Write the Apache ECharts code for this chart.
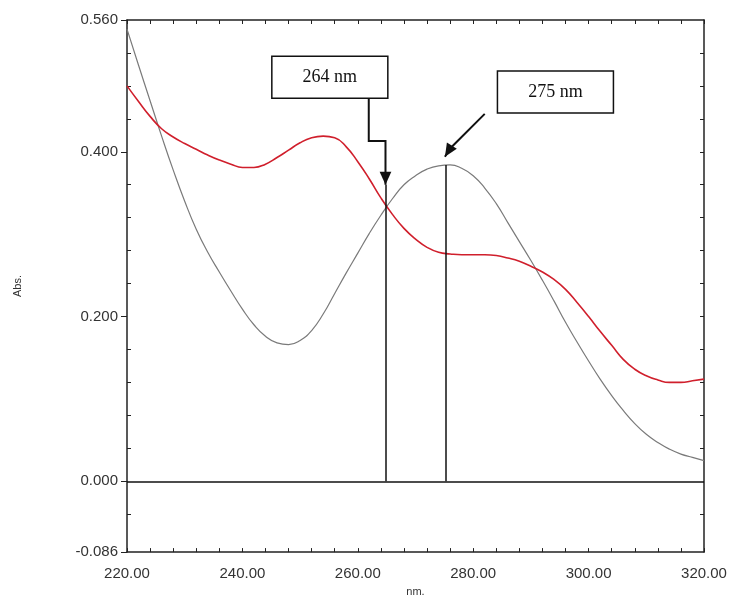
<!DOCTYPE html>
<html>
<head>
<meta charset="utf-8">
<script src="https://cdn.jsdelivr.net/npm/echarts@6/dist/echarts.min.js"></script>
<style>
  html, body { margin: 0; padding: 0; background: #fff; }
  #view { width: 730px; height: 602px; }
</style>
</head>
<body>
<div id="view"></div>
<script>
// wavelength (nm)
var wavelengths = [220,222,224,226,228,230,232,234,236,238,240,242,244,246,248,250,252,254,256,258,
    260,262,264,266,268,270,272,274,276,278,280,282,284,286,288,290,292,294,296,298,
    300,302,304,306,308,310,312,314,316,318,320];
// grey spectrum (peak at 275 nm)
var greyAbs = [0.549,0.505,0.462,0.419,0.378,0.340,0.306,0.278,0.254,0.231,0.209,0.190,0.176,0.168,0.166,0.171,0.183,0.203,0.228,0.253,
    0.277,0.301,0.323,0.343,0.360,0.371,0.379,0.383,0.384,0.380,0.371,0.356,0.337,0.314,0.291,0.268,0.244,0.219,0.193,0.169,
    0.146,0.124,0.104,0.086,0.070,0.057,0.047,0.039,0.033,0.029,0.025];
// red spectrum
var redAbs = [0.480,0.461,0.443,0.428,0.418,0.410,0.403,0.396,0.390,0.385,0.381,0.381,0.385,0.393,0.402,0.411,0.417,0.419,0.417,0.406,
    0.388,0.367,0.344,0.324,0.307,0.294,0.284,0.278,0.276,0.275,0.275,0.275,0.274,0.271,0.267,0.261,0.254,0.245,0.233,0.217,
    0.200,0.182,0.165,0.148,0.136,0.128,0.123,0.120,0.120,0.122,0.124];

var yLabelValues = [-0.086, 0, 0.2, 0.4, 0.56];
var yMinorTicks = [-0.04, 0.04, 0.08, 0.12, 0.16, 0.24, 0.28, 0.32, 0.36, 0.44, 0.48, 0.52];
var xTickValues = [];
for (var t = 220; t <= 320; t += 4) xTickValues.push(t);

// annotations: label, box top-left (nm, abs), arrow path (nm, abs)
var marker264 = { text: '264 nm', at: 264.8, top: 0.36, box: [245.1, 0.516], arrow: [[261.9, 0.465], [261.9, 0.413], [264.8, 0.413], [264.8, 0.375]], tip: [264.8, 0.36] };
var marker275 = { text: '275 nm', at: 275.2, top: 0.384, box: [284.2, 0.498], arrow: [[282.0, 0.446], [276.0, 0.404]], tip: [275.1, 0.394] };

var myChart = echarts.init(document.getElementById('view'));
var sans = 'Liberation Sans, Arial, sans-serif';

function pairs(xs, ys) {
    return xs.map(function (x, i) { return [x, ys[i]]; });
}

var option = {
    backgroundColor: '#fff',
    animation: false,
    grid: { left: 127, top: 20, right: 26, bottom: 49 },
    xAxis: [{
        type: 'value', min: 220, max: 320, interval: 20,
        name: 'nm.', nameLocation: 'middle', nameGap: 32,
        nameTextStyle: { color: '#333', fontSize: 11, fontFamily: sans },
        axisLine: { onZero: false, lineStyle: { color: '#222', width: 1.5 } },
        axisTick: { show: true, inside: true, length: 4, customValues: xTickValues, lineStyle: { color: '#222' } },
        axisLabel: { color: '#333', fontSize: 15, fontFamily: sans, margin: 14,
            formatter: function (v) { return v.toFixed(2); } },
        splitLine: { show: false }
    }, {
        type: 'value', min: 220, max: 320, position: 'top',
        axisLine: { onZero: false, lineStyle: { color: '#222', width: 1.5 } },
        axisTick: { show: true, inside: true, length: 4, customValues: xTickValues, lineStyle: { color: '#222' } },
        axisLabel: { show: false },
        splitLine: { show: false }
    }],
    yAxis: [{
        type: 'value', min: -0.086, max: 0.56,
        name: 'Abs.', nameLocation: 'middle', nameGap: 104, nameRotate: 90,
        nameTextStyle: { color: '#333', fontSize: 11, fontFamily: sans },
        axisLine: { onZero: false, lineStyle: { color: '#222', width: 1.5 } },
        axisTick: { show: true, inside: false, length: 6, customValues: yLabelValues, lineStyle: { color: '#222' } },
        axisLabel: { color: '#333', fontSize: 15, fontFamily: sans, margin: 9, customValues: yLabelValues,
            formatter: function (v) { return v.toFixed(3); } },
        splitLine: { show: false }
    }, {
        type: 'value', min: -0.086, max: 0.56, position: 'left',
        axisLine: { show: false, onZero: false },
        axisTick: { show: true, inside: true, length: 4, customValues: yMinorTicks, lineStyle: { color: '#222' } },
        axisLabel: { show: false },
        splitLine: { show: false }
    }, {
        type: 'value', min: -0.086, max: 0.56, position: 'right',
        axisLine: { onZero: false, lineStyle: { color: '#222', width: 1.5 } },
        axisTick: { show: true, inside: true, length: 4, customValues: yMinorTicks.concat([0.2, 0.4]), lineStyle: { color: '#222' } },
        axisLabel: { show: false },
        splitLine: { show: false }
    }],
    series: [{
        name: 'grey', type: 'line', smooth: true, symbol: 'none',
        data: pairs(wavelengths, greyAbs),
        lineStyle: { color: '#7a7a7a', width: 1.2 },
        markLine: {
            silent: true, symbol: 'none', label: { show: false },
            lineStyle: { color: '#111', width: 1.5, type: 'solid' },
            data: [
                [{ coord: [220, 0] }, { coord: [320, 0] }],
                [{ coord: [marker264.at, 0] }, { coord: [marker264.at, marker264.top] }],
                [{ coord: [marker275.at, 0] }, { coord: [marker275.at, marker275.top] }]
            ]
        }
    }, {
        name: 'red', type: 'line', smooth: true, symbol: 'none',
        data: pairs(wavelengths, redAbs),
        lineStyle: { color: '#d01f2c', width: 1.6 }
    }]
};
myChart.setOption(option);

function px(p) { return myChart.convertToPixel({ xAxisIndex: 0, yAxisIndex: 0 }, p); }

function arrowHead(tip, from, size) {
    var dx = tip[0] - from[0], dy = tip[1] - from[1];
    var len = Math.sqrt(dx * dx + dy * dy);
    var ux = dx / len, uy = dy / len;
    var bx = tip[0] - ux * size, by = tip[1] - uy * size;
    var w = size * 0.45;
    return [[tip[0], tip[1]], [bx - uy * w, by + ux * w], [bx + uy * w, by - ux * w]];
}

function markerGraphics(m) {
    var b = px(m.box);
    var pts = m.arrow.map(px);
    var tip = px(m.tip);
    var last = pts[pts.length - 1];
    return [{
        type: 'rect', shape: { x: b[0], y: b[1], width: 116, height: 42 },
        style: { fill: '#fff', stroke: '#111', lineWidth: 1.5 }, z: 10
    }, {
        type: 'text', x: b[0] + 58, y: b[1] + 21,
        style: { text: m.text, font: '18px "Liberation Serif", "Times New Roman", serif', fill: '#111', align: 'center', verticalAlign: 'middle' }, z: 11
    }, {
        type: 'polyline', shape: { points: pts.concat([tip]) },
        style: { stroke: '#111', lineWidth: 2, fill: null }, z: 10
    }, {
        type: 'polygon', shape: { points: arrowHead(tip, last, 13) },
        style: { fill: '#111' }, z: 11
    }];
}

myChart.setOption({ graphic: markerGraphics(marker264).concat(markerGraphics(marker275)) });
</script>
</body>
</html>
